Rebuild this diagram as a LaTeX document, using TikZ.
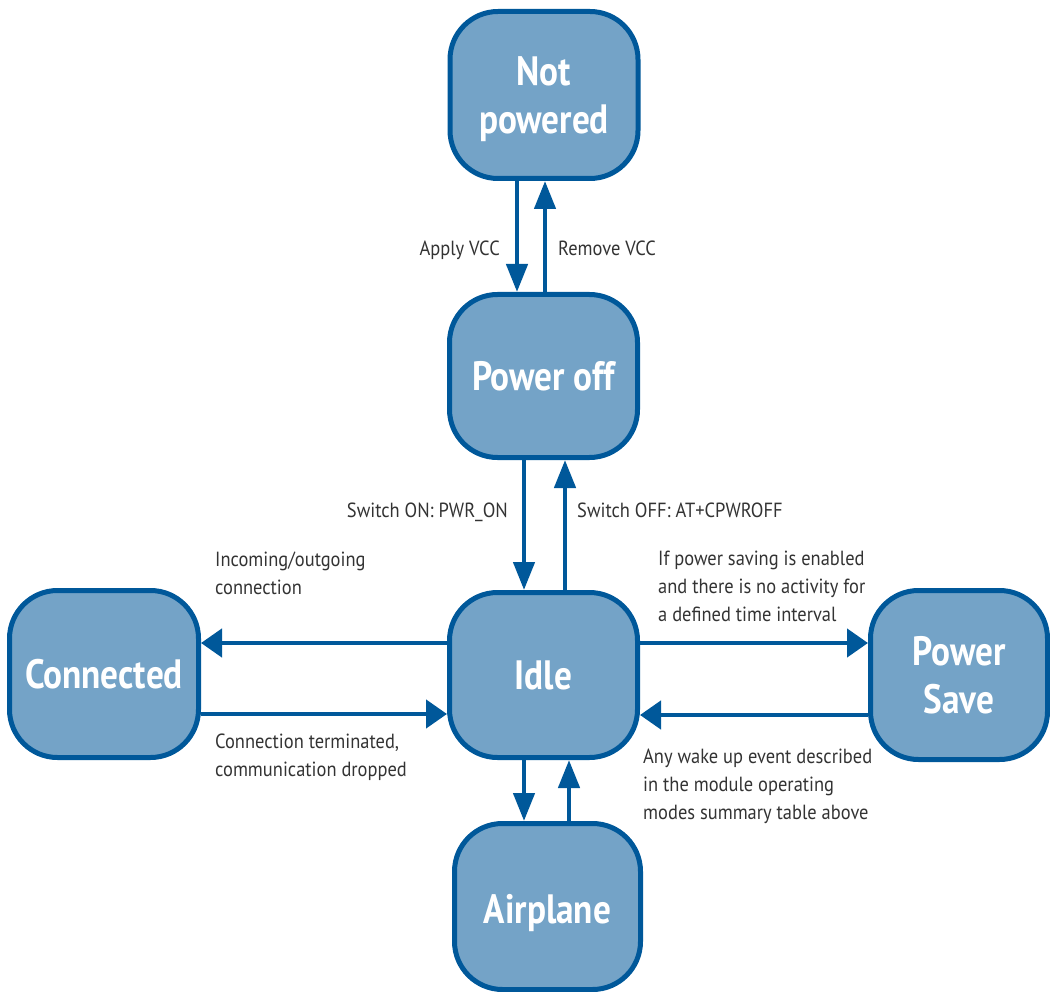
\documentclass[tikz,border=0pt]{standalone}
\usepackage{fontspec}
\setmainfont{PT Sans}[FakeStretch=0.9]
\newfontfamily\statefont{PT Sans}[FakeStretch=0.86]
\usetikzlibrary{arrows.meta}
\definecolor{stateFill}{HTML}{74A3C7}
\definecolor{stateLine}{HTML}{00589A}
\definecolor{labelGray}{HTML}{333333}
% a line whose descenders are left out of the vertical centring
\newcommand{\nodesc}[2][0pt]{\raisebox{#1}[\height][0pt]{#2}}
\tikzset{
  state/.style={draw=stateLine, fill=stateFill, line width=5pt, rounded corners=48pt,
    text=white, align=center, inner sep=0pt,
    font=\statefont\fontsize{41}{48}\selectfont\bfseries},
  vflow/.style={draw=stateLine, line width=4.5pt,
    -{Triangle[length=28pt,width=21pt]}},
  hflow/.style={draw=stateLine, line width=4.5pt,
    -{Triangle[length=21pt,width=28pt]}},
  lbl/.style={text=labelGray, inner sep=0pt, align=left,
    font=\fontsize{20.5}{28}\selectfont}
}
\begin{document}
\begin{tikzpicture}[x=1pt,y=-1pt]
  \useasboundingbox (0,0) rectangle (1050,992);

  % states (sizes are outer extents minus the border width)
  \node[state, minimum width=188pt, minimum height=167pt] (np)   at (544,95)    {Not\\\nodesc{powered}};
  \node[state, minimum width=188pt, minimum height=163pt] (po)   at (543.5,376) {Power off};
  \node[state, minimum width=188pt, minimum height=165pt] (idle) at (543.5,675) {Idle};
  \node[state, minimum width=189pt, minimum height=167pt] (conn) at (104,674)   {Connected};
  \node[state, minimum width=177pt, minimum height=169pt] (ps)   at (959,675)   {Power\\Save};
  \node[state, minimum width=186pt, minimum height=166pt] (air)  at (547.5,906.5) {\nodesc[-2pt]{Airplane}};

  % power supply transitions
  \draw[vflow] (np.south -| 517,0) -- (po.north -| 517,0);
  \draw[vflow] (po.north -| 545,0) -- (np.south -| 545,0);
  \node[lbl, anchor=base east] (tApply)  at (500,256) {Apply VCC};
  \node[lbl, anchor=base west] (tRemove) at (558,256) {Remove VCC};

  % switching on and off
  \draw[vflow] (po.south -| 524,0) -- (idle.north -| 524,0);
  \draw[vflow] (idle.north -| 565,0) -- (po.south -| 565,0);
  \node[lbl, anchor=base east] (tOn)  at (508,517) {Switch ON: PWR\_ON};
  \node[lbl, anchor=base west] (tOff) at (577,517) {Switch OFF: AT+CPWROFF};

  % connected mode
  \draw[hflow] (idle.west |- 0,643) -- (conn.east |- 0,643);
  \draw[hflow] (conn.east |- 0,714) -- (idle.west |- 0,714);
  \node[lbl, anchor=north west] (tIn)   at (215,552) {Incoming/outgoing\\connection};
  \node[lbl, anchor=north west] (tTerm) at (215,734) {Connection terminated,\\communication dropped};

  % power saving mode
  \draw[hflow] (idle.east |- 0,643) -- (ps.west |- 0,643);
  \draw[hflow] (ps.west |- 0,715) -- (idle.east |- 0,715);
  \node[lbl, anchor=north west] (tSave) at (658,551)
    {If power saving is enabled\\and there is no activity for\\a defined time interval};
  \node[lbl, anchor=north west] (tWake) at (643,749)
    {Any wake up event described\\in the module operating\\modes summary table above};

  % airplane mode
  \draw[vflow] (idle.south -| 524,0) -- (air.north -| 524,0);
  \draw[vflow] (air.north -| 569,0) -- (idle.south -| 569,0);
\end{tikzpicture}
\end{document}
